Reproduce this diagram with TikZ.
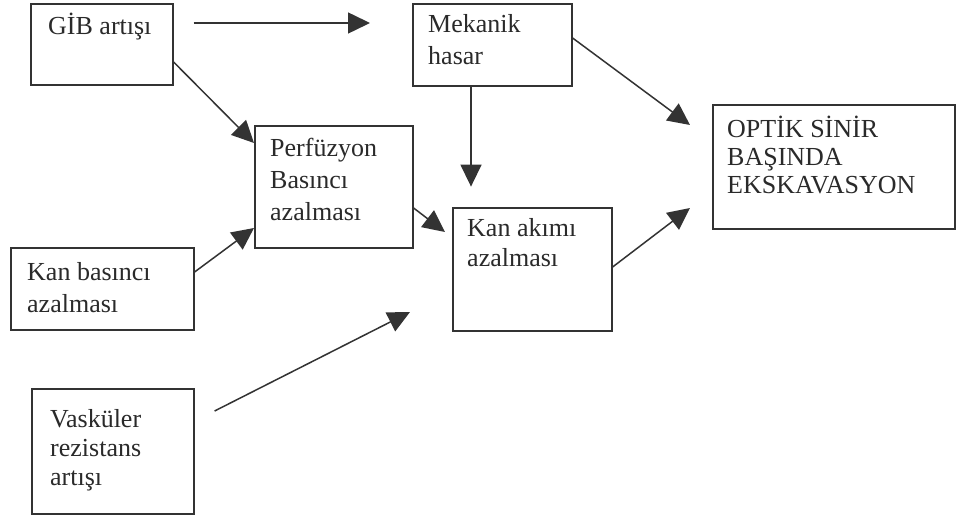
\documentclass[tikz,border=0pt]{standalone}
\usepackage{fontspec}
\setmainfont{Liberation Serif}
\usetikzlibrary{arrows.meta,calc}
\definecolor{linec}{HTML}{333333}
\definecolor{textc}{HTML}{2A2A2A}
\newcommand{\mylines}[2][30]{\parbox[t]{300pt}{\fontsize{26}{#1}\selectfont\raggedright #2}}
\begin{document}
\begin{tikzpicture}[x=1pt,y=-1pt,
  boxframe/.style={draw=linec, line width=1.6pt, inner sep=0pt, anchor=north west},
  lbl/.style={anchor=base west, inner sep=0pt, text=textc},
  conn/.style={draw=linec, line width=1.5pt, -{Triangle[length=22pt,width=21pt]}}]
\useasboundingbox[fill=white] (0,0) rectangle (957,518);

% boxes
\node[boxframe, minimum width=142pt, minimum height=81pt] (gib) at (30,3) {};
\node[boxframe, minimum width=159pt, minimum height=82pt] (mek) at (412,3) {};
\node[boxframe, minimum width=158pt, minimum height=122pt] (perf) at (254,125) {};
\node[boxframe, minimum width=159pt, minimum height=123pt] (kan) at (452,207) {};
\node[boxframe, minimum width=242pt, minimum height=124pt] (optik) at (712,104) {};
\node[boxframe, minimum width=183pt, minimum height=82pt] (kanbas) at (10,247) {};
\node[boxframe, minimum width=162pt, minimum height=125pt] (vask) at (31,388) {};

% texts
\node[lbl] (gibT) at (48,35) {\mylines{GİB artışı}};
\node[lbl] (mekT) at (428,33) {\mylines[32]{Mekanik\\hasar}};
\node[lbl] (perfT) at (270,157) {\mylines[32]{Perfüzyon\\Basıncı\\azalması}};
\node[lbl] (kanT) at (467,237) {\mylines[30]{Kan akımı\\azalması}};
\node[lbl] (optikT) at (727,138) {\mylines[28]{OPTİK SİNİR\\BAŞINDA\\EKSKAVASYON}};
\node[lbl] (kanbasT) at (27,280) {\mylines[32]{Kan basıncı\\azalması}};
\node[lbl] (vaskT) at (50,427) {\mylines[29]{Vasküler\\rezistans\\artışı}};

% connector end points
\coordinate (a1s) at ($(gib.north east)+(20,20)$);
\coordinate (a1e) at ($(mek.north west)+(-42,20)$);
\coordinate (a4e) at ($(kan.north west)+(-7,25)$);
\coordinate (a5e) at ($(mek.south west)+(59,100)$);
\coordinate (a6e) at ($(optik.north west)+(-22,21)$);
\coordinate (a7s) at ($(vask.north east)+(20,23)$);
\coordinate (a7e) at ($(kan.north west)+(-42,105)$);
\coordinate (a8e) at ($(optik.north west)+(-22,104)$);

% connectors
\draw[conn] (a1s) -- (a1e);
\draw[conn] ($(gib.north east)+(0,59)$) -- ($(perf.north west)+(0,18)$);
\draw[conn] ($(kanbas.north east)+(0,25)$) -- ($(perf.north west)+(0,103)$);
\draw[conn] ($(perf.north east)+(0,83)$) -- (a4e);
\draw[conn] ($(mek.south west)+(59,0)$) -- (a5e);
\draw[conn] ($(mek.north east)+(0,35)$) -- (a6e);
\draw[conn] (a7s) -- (a7e);
\draw[conn] ($(kan.north east)+(0,60)$) -- (a8e);
\end{tikzpicture}
\end{document}
